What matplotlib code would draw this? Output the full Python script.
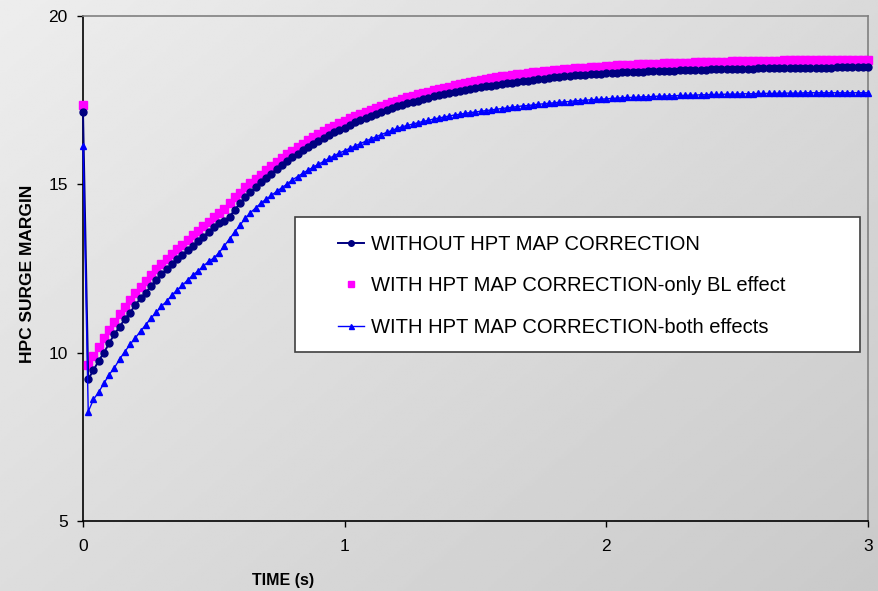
import numpy as np
import matplotlib
matplotlib.use("Agg")
import matplotlib.pyplot as plt
from matplotlib.patches import Rectangle

# time axis (s), one sample every 0.02 s
time_s = [round(0.02 * i, 2) for i in range(151)]

without_corr = [
    17.15, 9.21, 9.48, 9.76, 10.00, 10.28, 10.55, 10.77, 11.00, 11.19,
    11.42, 11.61, 11.78, 11.98, 12.16, 12.33, 12.48, 12.62, 12.78, 12.91,
    13.05, 13.17, 13.31, 13.45, 13.59, 13.72, 13.84, 13.92, 14.04, 14.24,
    14.44, 14.61, 14.77, 14.92, 15.06, 15.19, 15.32, 15.45, 15.57, 15.69,
    15.80, 15.91, 16.01, 16.11, 16.20, 16.29, 16.38, 16.46, 16.54, 16.61,
    16.68, 16.76, 16.84, 16.91, 16.98, 17.04, 17.10, 17.16, 17.22, 17.27,
    17.32, 17.37, 17.41, 17.45, 17.49, 17.53, 17.57, 17.61, 17.64, 17.67,
    17.70, 17.73, 17.76, 17.79, 17.82, 17.85, 17.88, 17.91, 17.93, 17.95,
    17.98, 18.00, 18.02, 18.04, 18.06, 18.08, 18.10, 18.12, 18.14, 18.16,
    18.18, 18.19, 18.21, 18.22, 18.24, 18.25, 18.26, 18.27, 18.28, 18.29,
    18.30, 18.31, 18.32, 18.33, 18.33, 18.34, 18.35, 18.35, 18.36, 18.36,
    18.37, 18.37, 18.38, 18.38, 18.39, 18.39, 18.40, 18.40, 18.41, 18.41,
    18.42, 18.42, 18.42, 18.43, 18.43, 18.43, 18.44, 18.44, 18.44, 18.45,
    18.45, 18.45, 18.45, 18.46, 18.46, 18.46, 18.46, 18.46, 18.47, 18.47,
    18.47, 18.47, 18.47, 18.47, 18.48, 18.48, 18.48, 18.48, 18.48, 18.48,
    18.48,
]

only_bl = [
    17.36, 9.63, 9.91, 10.18, 10.43, 10.67, 10.91, 11.15, 11.36, 11.56,
    11.76, 11.96, 12.13, 12.30, 12.48, 12.63, 12.79, 12.93, 13.07, 13.21,
    13.35, 13.49, 13.62, 13.76, 13.89, 14.02, 14.14, 14.26, 14.44, 14.61,
    14.75, 14.91, 15.03, 15.16, 15.29, 15.42, 15.54, 15.66, 15.78, 15.89,
    16.00, 16.11, 16.21, 16.31, 16.40, 16.49, 16.58, 16.66, 16.74, 16.82,
    16.89, 16.96, 17.03, 17.10, 17.16, 17.22, 17.28, 17.34, 17.39, 17.44,
    17.49, 17.54, 17.58, 17.63, 17.67, 17.71, 17.75, 17.79, 17.83, 17.86,
    17.90, 17.94, 17.98, 18.01, 18.04, 18.07, 18.10, 18.13, 18.16, 18.19,
    18.21, 18.23, 18.25, 18.27, 18.29, 18.31, 18.33, 18.35, 18.37, 18.38,
    18.40, 18.41, 18.43, 18.44, 18.45, 18.46, 18.47, 18.48, 18.49, 18.50,
    18.51, 18.52, 18.53, 18.54, 18.55, 18.55, 18.56, 18.57, 18.57, 18.58,
    18.58, 18.59, 18.59, 18.60, 18.60, 18.61, 18.61, 18.62, 18.62, 18.63,
    18.63, 18.64, 18.64, 18.64, 18.65, 18.65, 18.65, 18.66, 18.66, 18.66,
    18.67, 18.67, 18.67, 18.67, 18.68, 18.68, 18.68, 18.68, 18.68, 18.69,
    18.69, 18.69, 18.69, 18.69, 18.69, 18.69, 18.69, 18.69, 18.69, 18.69,
    18.69,
]

both_effects = [
    16.15, 8.25, 8.61, 8.83, 9.09, 9.35, 9.55, 9.81, 10.03, 10.25,
    10.44, 10.64, 10.83, 11.03, 11.20, 11.38, 11.53, 11.71, 11.86, 12.00,
    12.16, 12.30, 12.43, 12.57, 12.71, 12.81, 12.97, 13.17, 13.38, 13.59,
    13.79, 13.99, 14.16, 14.30, 14.44, 14.56, 14.67, 14.79, 14.90, 15.01,
    15.13, 15.23, 15.33, 15.42, 15.51, 15.60, 15.68, 15.77, 15.85, 15.93,
    16.00, 16.07, 16.14, 16.21, 16.28, 16.35, 16.41, 16.48, 16.54, 16.60,
    16.66, 16.71, 16.75, 16.79, 16.83, 16.87, 16.90, 16.94, 16.97, 17.00,
    17.03, 17.06, 17.08, 17.11, 17.13, 17.15, 17.17, 17.19, 17.21, 17.23,
    17.25, 17.27, 17.29, 17.31, 17.33, 17.34, 17.36, 17.38, 17.39, 17.41,
    17.42, 17.44, 17.45, 17.46, 17.48, 17.49, 17.50, 17.51, 17.52, 17.53,
    17.54, 17.55, 17.56, 17.57, 17.58, 17.58, 17.59, 17.60, 17.60, 17.61,
    17.62, 17.62, 17.63, 17.63, 17.64, 17.64, 17.65, 17.65, 17.66, 17.66,
    17.67, 17.67, 17.67, 17.68, 17.68, 17.68, 17.69, 17.69, 17.69, 17.70,
    17.70, 17.70, 17.70, 17.71, 17.71, 17.71, 17.71, 17.71, 17.72, 17.72,
    17.72, 17.72, 17.72, 17.72, 17.72, 17.72, 17.72, 17.72, 17.72, 17.72,
    17.72,
]

labels = [
    "WITHOUT HPT MAP CORRECTION",
    "WITH HPT MAP CORRECTION-only BL effect",
    "WITH HPT MAP CORRECTION-both effects",
]

plt.rcParams['font.family'] = ['Liberation Sans', 'DejaVu Sans']

W, H = 879, 591
fig = plt.figure(figsize=(W / 100, H / 100), dpi=100)

# grey diagonal gradient behind everything
bg = fig.add_axes([0, 0, 1, 1], zorder=-10)
yy, xx = np.mgrid[0:1:200j, 0:1:300j]
shade = 0.93 - 0.14 * (0.55 * xx + 0.45 * yy)
bg.imshow(shade, cmap='gray', vmin=0, vmax=1, aspect='auto', extent=[0, 1, 0, 1], origin='upper')
bg.axis('off')

ax = fig.add_axes([83 / W, 1 - 521 / H, (868 - 83) / W, (521 - 16) / H])
ax.set_facecolor('none')

ax.plot(time_s, only_bl, linestyle='none', marker='s', markersize=6,
        color='#ff00ff', label=labels[1], clip_on=False, zorder=3)
ax.plot(time_s, without_corr, color='#000080', linewidth=1.4, marker='o',
        markersize=5, label=labels[0], clip_on=False, zorder=4)
ax.plot(time_s, both_effects, color='#0000ff', linewidth=1.0, marker='^',
        markersize=4.5, label=labels[2], clip_on=False, zorder=5)

ax.set_xlim(0, 3)
ax.set_ylim(5, 20)
ax.set_xticks([0, 1, 2, 3])
ax.set_yticks([5, 10, 15, 20])
ax.tick_params(direction='out', length=4, width=1, labelsize=12.5, colors='black')
ax.tick_params(axis='x', pad=9)
ax.tick_params(axis='y', pad=7)

for side in ['left', 'bottom']:
    ax.spines[side].set_color('black')
    ax.spines[side].set_linewidth(1.2)
for side in ['top', 'right']:
    ax.spines[side].set_color('#808080')
    ax.spines[side].set_linewidth(1.2)

fig.text(283 / W, 1 - 580 / H, "TIME (s)", ha='center', va='center',
         fontsize=11.5, fontweight='bold',
         family=['Liberation Sans Narrow', 'Liberation Sans', 'DejaVu Sans'])
fig.text(28 / W, 1 - 274 / H, "HPC SURGE MARGIN", ha='center', va='center',
         rotation=90, fontsize=12.5, fontweight='bold')

# legend frame
fig.patches.append(Rectangle((295 / W, 1 - 352 / H), (860 - 295) / W, (352 - 217) / H,
                             transform=fig.transFigure, facecolor='white',
                             edgecolor='#404040', linewidth=1.2, zorder=6))

handles, lbls = ax.get_legend_handles_labels()
order = [1, 0, 2]
handles = [handles[i] for i in order]
lbls = [lbls[i] for i in order]
leg = fig.legend(handles, lbls, loc='center left', bbox_to_anchor=(338 / W, 1 - 286 / H),
                 frameon=False, fontsize=14.5, handlelength=1.3, handletextpad=0.35,
                 labelspacing=1.1, borderpad=0, borderaxespad=0, markerscale=0.8)
leg.set_zorder(7)

fig.savefig("out.png", dpi=100)
